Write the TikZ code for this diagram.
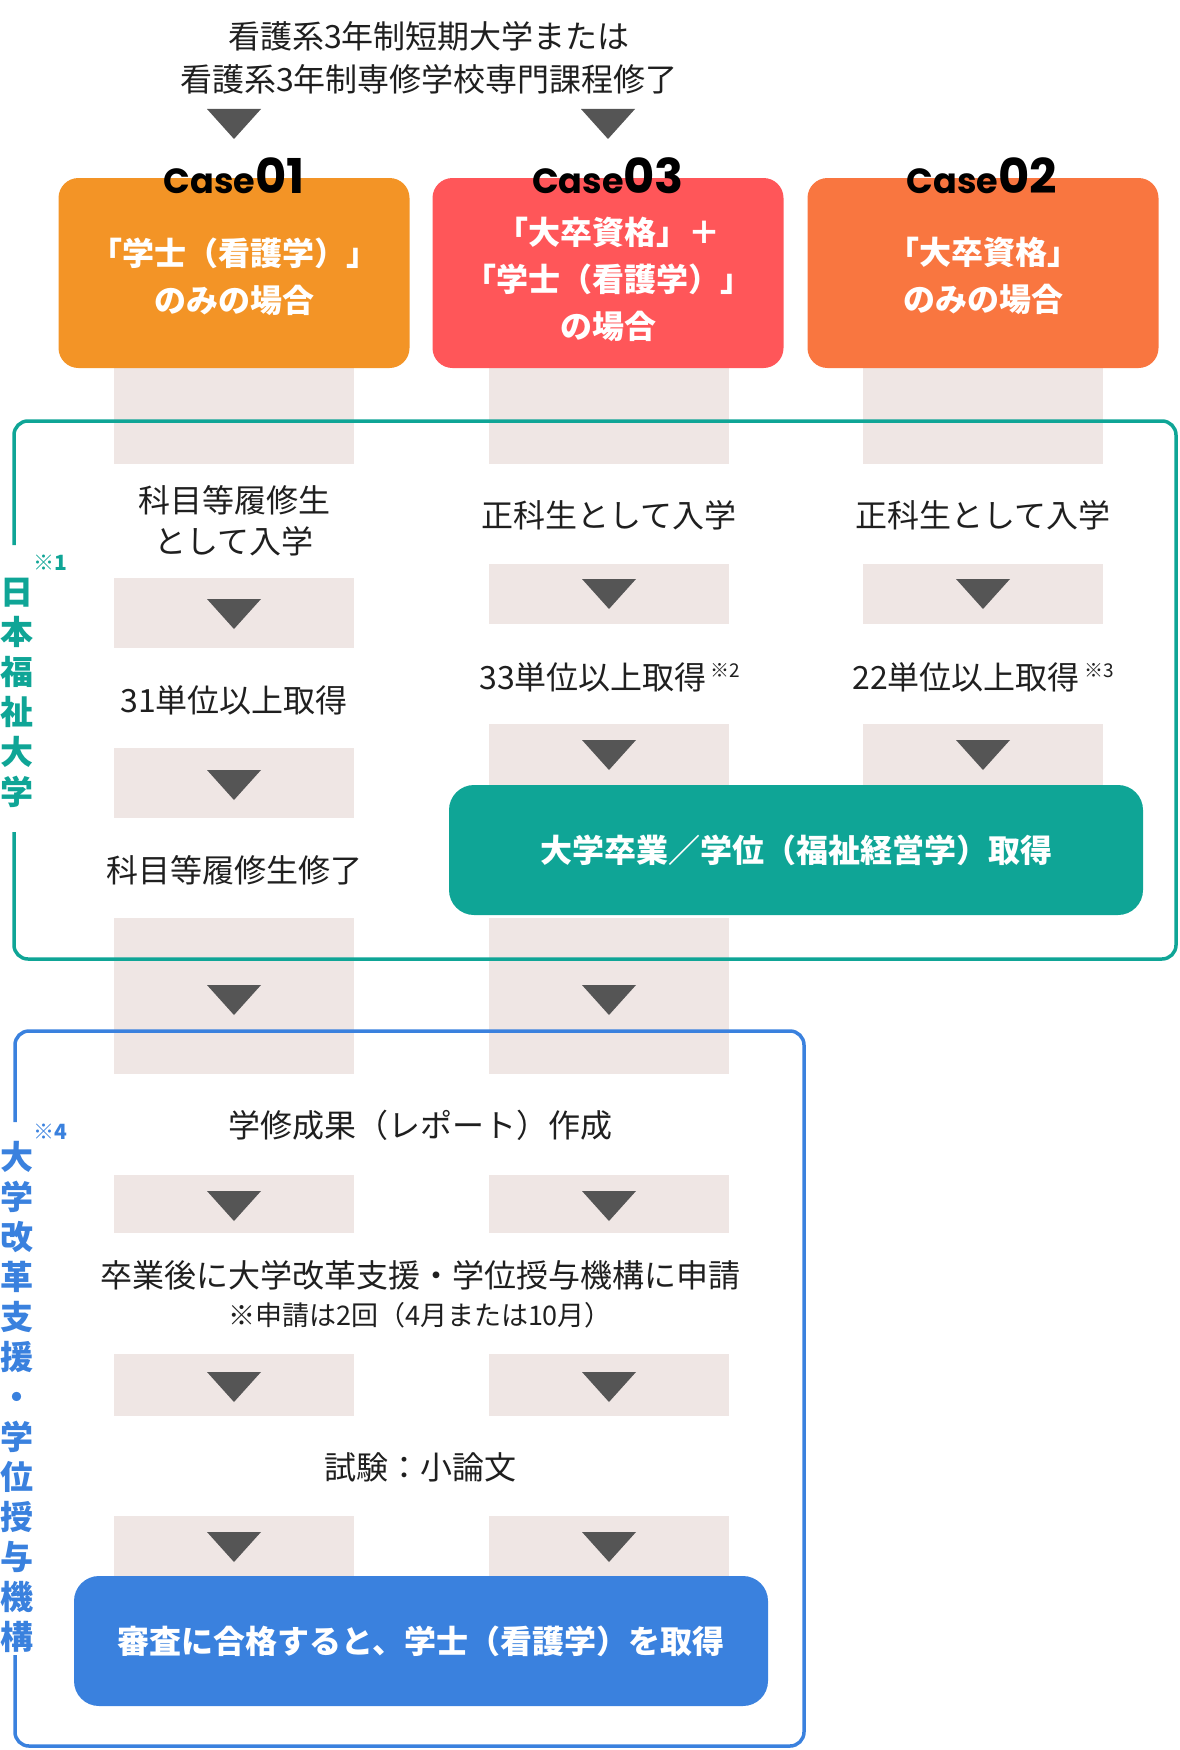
\documentclass[tikz,border=0pt]{standalone}
\usepackage{fontspec}
\setmainfont{Noto Sans CJK JP}
\newfontfamily\casefont{Poppins}
\definecolor{caseorange}{HTML}{F39426}
\definecolor{casecoral}{HTML}{F97640}
\definecolor{casered}{HTML}{FF5659}
\definecolor{barbg}{HTML}{EFE6E4}
\definecolor{arrowgray}{HTML}{555555}
\definecolor{jfcteal}{HTML}{0FA596}
\definecolor{niadblue}{HTML}{3A81DE}

\begin{document}
\begin{tikzpicture}[x=1pt,y=-1pt,
    graybar/.style={fill=barbg},
    downtri/.style={fill=arrowgray},
    casebox/.style={rounded corners=20pt, minimum width=351pt, minimum height=190pt, inner sep=0pt},
    casetext/.style={text=white, align=center, font=\bfseries\fontsize{32}{47}\selectfont},
    caselabel/.style={anchor=base, inner sep=0pt, font=\casefont\bfseries},
    flowtext/.style={align=center, text=black!88, font=\fontsize{32}{41}\selectfont},
    resultbox/.style={rounded corners=25pt, minimum width=694pt, minimum height=130pt, text=white, font=\bfseries\fontsize{32}{32}\selectfont},
    vlabel/.style={align=center, inner sep=0pt, font=\bfseries\fontsize{33}{40}\selectfont},
    noteref/.style={inner sep=0pt, font=\bfseries\fontsize{21}{21}\selectfont},
    frame/.style={line width=3.5pt, rounded corners=14pt}]

  \useasboundingbox (0,0) rectangle (1179,1750);

  % Gray guide bars
  \foreach \x/\a/\b in {234/368/464, 234/578/648, 234/748/818, 234/918/1074,
                        609/368/464, 609/564/624, 609/724/790, 609/918/1074,
                        983/368/464, 983/564/624, 983/724/790} {
    \fill[graybar] (\x-120,\a) rectangle (\x+120,\b);
  }
  \foreach \x in {234,609} {
    \fill[graybar] (\x-120,1175) rectangle (\x+120,1233);
    \fill[graybar] (\x-120,1354) rectangle (\x+120,1416);
    \fill[graybar] (\x-120,1516) rectangle (\x+120,1580);
  }

  % Triangles
  \foreach \x/\y in {234/124, 608/124, 234/614, 234/785, 234/1000,
                     609/594, 609/755, 609/1000, 983/594, 983/755} {
    \fill[downtri] (\x-27,\y-15) -- (\x+27,\y-15) -- (\x,\y+15) -- cycle;
  }
  \foreach \x in {234,609} {
    \foreach \y in {1206,1387,1547} {
      \fill[downtri] (\x-27,\y-15) -- (\x+27,\y-15) -- (\x,\y+15) -- cycle;
    }
  }

  % Title
  \node[flowtext, font=\fontsize{32}{43}\selectfont] (origin) at (429,58)
    {看護系3年制短期大学または\\看護系3年制専修学校専門課程修了};

  % Case boxes
  \node[casebox, fill=caseorange] (case01box) at (234,273) {};
  \node[casebox, fill=casered] (case03box) at (608,273) {};
  \node[casebox, fill=casecoral] (case02box) at (983,273) {};
  \node[casetext] (case01txt) at (234,277) {「学士（看護学）」\\のみの場合};
  \node[casetext] (case03txt) at (608,279) {「大卒資格」＋\\「学士（看護学）」\\の場合};
  \node[casetext] (case02txt) at (983,276) {「大卒資格」\\のみの場合};
  \foreach \x/\n in {234/01, 608/03, 982/02} {
    \node[caselabel] (case\n lbl) at (\x,193)
      {{\fontsize{35}{35}\selectfont Case}{\fontsize{48}{48}\selectfont \n}};
  }

  % Nihon Fukushi University
  \draw[frame, jfcteal] (14,545) -- (14,421) -- (1176,421) -- (1176,959) -- (14,959) -- (14,832);
  \node[noteref, text=jfcteal] (jfcnote) at (50,563) {※1};
  \node[vlabel, text=jfcteal] (jfcname) at (17,693) {日\\本\\福\\祉\\大\\学};

  \node[flowtext] (kamoku) at (234,521) {科目等履修生\\として入学};
  \node[flowtext] (seika03) at (609,515) {正科生として入学};
  \node[flowtext] (seika02) at (983,515) {正科生として入学};
  \node[flowtext] (units31) at (234,700) {31単位以上取得};
  \node[flowtext] (units33) at (610,677)
    {33単位以上取得\hspace{4pt}\raisebox{12pt}{\fontsize{19}{19}\selectfont ※2}};
  \node[flowtext] (units22) at (983,677)
    {22単位以上取得\hspace{4pt}\raisebox{12pt}{\fontsize{19}{19}\selectfont ※3}};
  \node[flowtext] (kamokuend) at (234,870) {科目等履修生修了};
  \node[resultbox, fill=jfcteal] (graduate) at (796,850) {大学卒業／学位（福祉経営学）取得};

  % NIAD-QE
  \draw[frame, niadblue] (15,1122) -- (15,1031) -- (804,1031) -- (804,1746) -- (15,1746) -- (15,1655);
  \node[noteref, text=niadblue] (niadnote) at (50,1132) {※4};
  \node[vlabel, text=niadblue] (niadname) at (17,1397)
    {大\\学\\改\\革\\支\\援\\・\\学\\位\\授\\与\\機\\構};

  \node[flowtext] (report) at (420,1125) {学修成果（レポート）作成};
  \node[flowtext] (apply) at (420,1275) {卒業後に大学改革支援・学位授与機構に申請};
  \node[flowtext, font=\fontsize{27}{27}\selectfont] (applynote) at (420,1315) {※申請は2回（4月または10月）};
  \node[flowtext] (exam) at (420,1467) {試験：小論文};
  \node[resultbox, fill=niadblue] (degree) at (421,1641) {審査に合格すると、学士（看護学）を取得};
\end{tikzpicture}
\end{document}
